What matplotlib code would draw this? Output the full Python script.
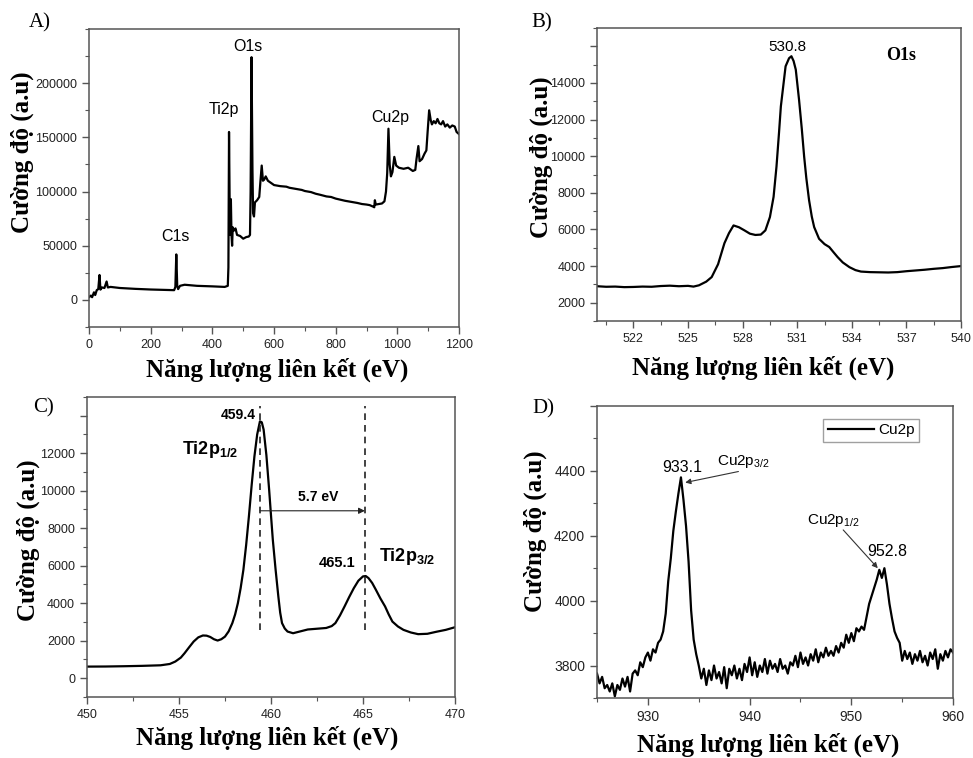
import numpy as np
import matplotlib
matplotlib.use('Agg')
import matplotlib.pyplot as plt
from matplotlib.ticker import MultipleLocator, FixedLocator

plt.rcParams['font.family'] = ['Liberation Sans', 'DejaVu Sans']
plt.rcParams['mathtext.fontset'] = 'custom'
plt.rcParams['mathtext.rm'] = 'Liberation Sans'
plt.rcParams['mathtext.it'] = 'Liberation Sans:italic'
plt.rcParams['mathtext.bf'] = 'Liberation Sans:bold'

# ---- A) survey spectrum ----
a_energy = [0, 6, 10, 16, 20, 25, 30, 34, 37, 42, 50, 57, 61, 70, 100, 150, 200, 250, 276,
            280, 283, 286, 289, 295, 310, 350, 400, 440, 450, 452, 454, 456, 458, 460, 462,
            464, 466, 470, 475, 480, 490, 500, 510, 518, 522, 524, 527, 530, 532, 535, 538,
            545, 552, 556, 560, 564, 568, 573, 580, 600, 620, 640, 650, 670, 690, 700, 720,
            735, 750, 770, 785, 800, 815, 830, 850, 870, 885, 900, 910, 922, 925, 927, 930,
            950, 958, 963, 967, 971, 975, 979, 984, 990, 996, 1005, 1020, 1035, 1050, 1058,
            1062, 1068, 1072, 1080, 1088, 1094, 1098, 1103, 1108, 1112, 1118, 1124, 1130,
            1136, 1142, 1148, 1155, 1162, 1170, 1178, 1186, 1192, 1200]
a_counts = [2500, 4000, 2500, 7000, 4500, 9000, 10000, 23000, 9500, 11500, 11000, 17000,
            11500, 12000, 11000, 10200, 9600, 9200, 9000, 12000, 42000, 13000, 10000, 13000,
            14000, 13000, 12500, 12000, 13000, 30000, 155000, 90000, 60000, 93000, 60000,
            50000, 67000, 64000, 66000, 60000, 59000, 56500, 58000, 58500, 60000, 100000,
            224000, 120000, 80000, 77000, 90000, 92000, 95000, 110000, 124000, 110000,
            111000, 114000, 110000, 106000, 105000, 104500, 103500, 102500, 101500, 100500,
            99500, 98000, 97000, 95500, 95000, 93500, 92500, 91500, 90500, 89500, 88500,
            88000, 87500, 86000, 85500, 92000, 88000, 89000, 91000, 100000, 117000, 158000,
            125000, 114000, 118000, 132000, 124000, 122000, 121000, 122000, 119000, 120000,
            130000, 142000, 128000, 130000, 135000, 138000, 155000, 175000, 166000, 162000,
            165000, 163000, 167000, 163000, 162000, 165000, 160000, 162000, 159000, 161000,
            160000, 155000, 153000]

# ---- B) O1s ----
b_energy = [520, 520.5, 521, 521.5, 522, 522.5, 523, 523.5, 524, 524.5, 525, 525.3, 525.6,
            526, 526.3, 526.65, 527.0, 527.25, 527.5, 527.8, 528.1, 528.4, 528.7, 529.0,
            529.25, 529.5, 529.7, 529.86, 530.0, 530.1, 530.36, 530.55, 530.68, 530.8,
            530.92, 531.1, 531.25, 531.38, 531.5, 531.65, 531.8, 531.93, 532.2, 532.5,
            532.76, 533.0, 533.22, 533.5, 533.87, 534.2, 534.5, 535, 535.5, 536, 536.5,
            537, 537.5, 538, 538.5, 539, 539.5, 540]
b_counts = [2900, 2870, 2880, 2850, 2860, 2880, 2870, 2910, 2930, 2900, 2920, 2880, 2950,
            3150, 3400, 4100, 5250, 5800, 6220, 6120, 5950, 5770, 5700, 5720, 5950, 6680,
            7780, 9430, 11300, 12720, 14910, 15350, 15460, 15200, 14730, 13080, 11500, 9980,
            8800, 7600, 6700, 6130, 5490, 5200, 5040, 4750, 4490, 4200, 3940, 3780, 3700,
            3670, 3660, 3650, 3670, 3720, 3760, 3800, 3850, 3890, 3950, 4000]

# ---- C) Ti2p ----
c_energy = [450, 451, 452, 453, 454, 454.5, 454.8, 455.1, 455.3, 455.55, 455.8, 456.05,
            456.3, 456.5, 456.7, 456.9, 457.1, 457.3, 457.5, 457.7, 457.9, 458.05, 458.2,
            458.35, 458.5, 458.65, 458.8, 458.95, 459.1, 459.25, 459.4, 459.5, 459.6,
            459.75, 459.9, 460.0, 460.1, 460.25, 460.4, 460.5, 460.6, 460.75, 460.9, 461.2,
            461.6, 462, 462.5, 463, 463.3, 463.5, 463.75, 464, 464.25, 464.5, 464.75, 465.0,
            465.15, 465.3, 465.5, 465.7, 465.95, 466.2, 466.4, 466.6, 466.9, 467.2, 467.6,
            468.0, 468.5, 469, 469.5, 470]
c_counts = [620, 625, 640, 660, 690, 760, 890, 1100, 1330, 1650, 1960, 2180, 2280, 2270,
            2200, 2080, 2010, 2080, 2220, 2500, 2940, 3400, 4000, 4800, 5780, 7100, 8630,
            10300, 11830, 13000, 13700, 13650, 13260, 11900, 10050, 8700, 7380, 5800, 4360,
            3500, 2940, 2650, 2490, 2400, 2500, 2600, 2640, 2680, 2780, 2940, 3350, 3830,
            4330, 4800, 5200, 5430, 5450, 5340, 5080, 4720, 4250, 3830, 3400, 3020, 2760,
            2580, 2440, 2350, 2370, 2480, 2580, 2720]

# ---- D) Cu2p, sampled every 0.25 eV from 925 eV ----
d_start, d_step = 925.0, 0.25
d_counts = [
    3775, 3745, 3765, 3730,  # 925
    3740, 3720, 3745, 3705,  # 926
    3740, 3725, 3760, 3735,  # 927
    3765, 3720, 3775, 3785,  # 928
    3770, 3810, 3795, 3825,  # 929
    3840, 3815, 3850, 3840,  # 930
    3870, 3880, 3905, 3960,  # 931
    4060, 4130, 4215, 4275,  # 932
    4330, 4380, 4310, 4230,  # 933
    4120, 3970, 3880, 3835,  # 934
    3800, 3760, 3790, 3740,  # 935
    3785, 3755, 3800, 3760,  # 936
    3780, 3745, 3795, 3730,  # 937
    3790, 3770, 3800, 3760,  # 938
    3790, 3755, 3805, 3780,  # 939
    3825, 3770, 3810, 3765,  # 940
    3800, 3780, 3820, 3775,  # 941
    3815, 3790, 3805, 3780,  # 942
    3820, 3790, 3800, 3775,  # 943
    3810, 3800, 3830, 3795,  # 944
    3840, 3805, 3825, 3800,  # 945
    3835, 3815, 3850, 3810,  # 946
    3840, 3825, 3855, 3830,  # 947
    3845, 3830, 3860, 3840,  # 948
    3870, 3855, 3895, 3870,  # 949
    3900, 3875, 3915, 3905,  # 950
    3920, 3910, 3950, 3990,  # 951
    4015, 4040, 4065, 4095,  # 952
    4070, 4100, 4050, 3990,  # 953
    3945, 3905, 3885, 3870,  # 954
    3815, 3845, 3820, 3840,  # 955
    3805, 3835, 3815, 3845,  # 956
    3810, 3830, 3800, 3840,  # 957
    3820, 3850, 3790, 3835,  # 958
    3815, 3845, 3825, 3850,  # 959
    3840]                    # 960
d_energy = d_start + d_step * np.arange(len(d_counts))

XLABEL = 'Năng lượng liên kết (eV)'
YLABEL = 'Cường độ (a.u)'
SERIF = 'Liberation Serif'
FRAME = '#555555'


def style_axes(ax, tick_size):
    for sp in ax.spines.values():
        sp.set_color(FRAME)
        sp.set_linewidth(1.1)
    ax.tick_params(which='both', direction='out', top=False, right=False,
                   colors=FRAME, labelcolor='#222222', labelsize=tick_size)
    ax.tick_params(which='major', length=5, width=1)
    ax.tick_params(which='minor', length=3, width=0.8)


def add_labels(ax, xpos, ypos):
    ax.set_xlabel(XLABEL, fontfamily=SERIF, fontweight='bold', fontsize=18, va='center')
    ax.set_ylabel(YLABEL, fontfamily=SERIF, fontweight='bold', fontsize=18, va='center')
    ax.xaxis.set_label_coords(*xpos)
    ax.yaxis.set_label_coords(*ypos)


fig = plt.figure(figsize=(9.73, 7.58), dpi=100)

# panel A
axA = fig.add_axes([0.0915, 0.5686, 0.3803, 0.3931])
axA.plot(a_energy, a_counts, color='black', lw=1.6)
axA.set_xlim(0, 1200)
axA.set_ylim(-25000, 250000)
axA.xaxis.set_major_locator(MultipleLocator(200))
axA.xaxis.set_minor_locator(MultipleLocator(100))
axA.yaxis.set_major_locator(FixedLocator([0, 50000, 100000, 150000, 200000]))
axA.yaxis.set_minor_locator(MultipleLocator(25000))
style_axes(axA, 9)
add_labels(axA, (0.508, -0.144), (-0.181, 0.587))
for txt, x, y in [('O1s', 516.7, 234100), ('Ti2p', 438, 175760),
                  ('C1s', 279, 58340), ('Cu2p', 976, 168400)]:
    axA.text(x, y, txt, ha='center', va='center', fontsize=11.5)

# panel B
axB = fig.add_axes([0.6136, 0.5765, 0.3741, 0.3865])
axB.plot(b_energy, b_counts, color='black', lw=1.6)
axB.set_xlim(520, 540)
axB.set_ylim(1000, 17000)
axB.xaxis.set_major_locator(FixedLocator([522, 525, 528, 531, 534, 537, 540]))
axB.xaxis.set_minor_locator(MultipleLocator(1.5))
b_yticks = [2000, 4000, 6000, 8000, 10000, 12000, 14000, 16000]
axB.set_yticks(b_yticks)
axB.set_yticklabels([str(v) for v in b_yticks[:-1]] + [''])
axB.yaxis.set_minor_locator(MultipleLocator(1000))
style_axes(axB, 9)
add_labels(axB, (0.456, -0.16), (-0.152, 0.56))
axB.text(530.48, 15970, '530.8', ha='center', va='center', fontsize=11)
axB.text(536.73, 15515, 'O1s', ha='center', va='center', fontsize=13,
         fontfamily=SERIF, fontweight='bold')

# panel C
axC = fig.add_axes([0.0894, 0.0805, 0.3782, 0.3958])
axC.plot(c_energy, c_counts, color='black', lw=1.6)
axC.set_xlim(450, 470)
axC.set_ylim(-1000, 15000)
axC.xaxis.set_major_locator(MultipleLocator(5))
axC.xaxis.set_minor_locator(MultipleLocator(2.5))
c_yticks = [0, 2000, 4000, 6000, 8000, 10000, 12000, 14000]
axC.set_yticks(c_yticks)
axC.set_yticklabels([str(v) for v in c_yticks[:-1]] + [''])
axC.yaxis.set_minor_locator(MultipleLocator(1000))
style_axes(axC, 9)
add_labels(axC, (0.49, -0.137), (-0.16, 0.523))
for xv in (459.4, 465.1):
    axC.plot([xv, xv], [2580, 14500], color='#222222', lw=1.2, ls=(0, (4, 3)))
axC.annotate('', xy=(465.1, 8930), xytext=(459.4, 8930),
             arrowprops=dict(arrowstyle='-|>', color='#222222', lw=0.8,
                             mutation_scale=9, shrinkA=0, shrinkB=0))
axC.text(458.2, 14060, '459.4', ha='center', va='center', fontsize=10, fontweight='bold')
axC.text(456.7, 12190, r'Ti2p$_\mathbf{1/2}$', ha='center', va='center',
         fontsize=13, fontweight='bold')
axC.text(462.55, 9680, '5.7 eV', ha='center', va='center', fontsize=10, fontweight='bold')
axC.text(463.6, 6140, '465.1', ha='center', va='center', fontsize=10.5, fontweight='bold')
axC.text(467.4, 6490, r'Ti2p$_\mathbf{3/2}$', ha='center', va='center',
         fontsize=13, fontweight='bold')

# panel D
axD = fig.add_axes([0.6136, 0.0792, 0.3659, 0.3852])
axD.plot(d_energy, d_counts, color='black', lw=1.6, label='Cu2p')
axD.set_xlim(925, 960)
axD.set_ylim(3700, 4600)
axD.xaxis.set_major_locator(MultipleLocator(10))
axD.xaxis.set_minor_locator(MultipleLocator(5))
d_yticks = [3800, 4000, 4200, 4400, 4600]
axD.set_yticks(d_yticks)
axD.set_yticklabels([str(v) for v in d_yticks[:-1]] + [''])
axD.yaxis.set_minor_locator(MultipleLocator(100))
style_axes(axD, 10)
add_labels(axD, (0.48, -0.161), (-0.174, 0.57))
leg = axD.legend(loc='upper right', bbox_to_anchor=(0.905, 0.957), borderaxespad=0,
                 fancybox=False, fontsize=11, handlelength=3.0, borderpad=0.3,
                 handletextpad=0.3)
leg.get_frame().set_edgecolor('#888888')
leg.get_frame().set_linewidth(1.0)
arrow_kw = dict(arrowstyle='-|>', color='#333333', lw=0.8, mutation_scale=8,
                shrinkA=0, shrinkB=0)
axD.annotate('', xy=(933.67, 4364), xytext=(938.9, 4398), arrowprops=arrow_kw)
axD.annotate('', xy=(952.6, 4100), xytext=(949.2, 4218), arrowprops=arrow_kw)
axD.text(933.34, 4411, '933.1', ha='center', va='center', fontsize=11.5)
axD.text(939.4, 4429, r'Cu2p$_{3/2}$', ha='center', va='center', fontsize=11)
axD.text(948.2, 4246, r'Cu2p$_{1/2}$', ha='center', va='center', fontsize=11)
axD.text(953.5, 4153, '952.8', ha='center', va='center', fontsize=11.5)

# panel letters
for letter, x, y in [('A)', 40, 23), ('B)', 542, 23), ('C)', 44, 408), ('D)', 543, 409)]:
    fig.text(x / 973, 1 - y / 758, letter, ha='center', va='center',
             fontsize=15, fontfamily=SERIF)

fig.savefig('out.png', dpi=100)
